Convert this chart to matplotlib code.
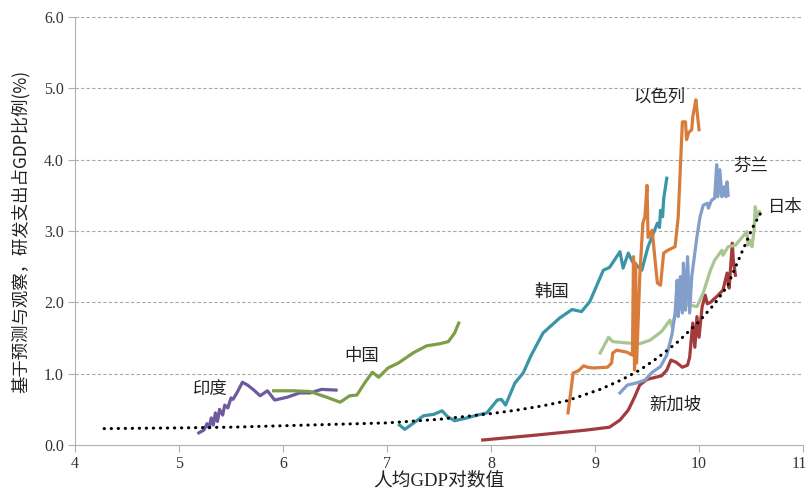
import matplotlib
matplotlib.use("Agg")
import matplotlib.pyplot as plt
import matplotlib.transforms as mtransforms
from matplotlib.ticker import FormatStrFormatter

plt.rcParams['font.family'] = ['Noto Sans CJK SC', 'DejaVu Sans']

# log GDP per capita (x) vs R&D share of GDP (y)
india_x = [5.19, 5.24, 5.27, 5.29, 5.31, 5.33, 5.35, 5.37, 5.39, 5.42, 5.44, 5.47, 5.50, 5.52,
           5.56, 5.61, 5.66, 5.72, 5.78, 5.85, 5.92, 6.04, 6.16, 6.26, 6.37, 6.51]
india_y = [0.17, 0.21, 0.30, 0.24, 0.38, 0.28, 0.45, 0.33, 0.50, 0.42, 0.56, 0.52, 0.66, 0.64,
           0.74, 0.88, 0.84, 0.77, 0.69, 0.76, 0.63, 0.67, 0.73, 0.73, 0.78, 0.77]

china_x = [5.91, 6.10, 6.26, 6.42, 6.55, 6.64, 6.71, 6.79, 6.86, 6.92, 7.01, 7.11, 7.25, 7.38,
           7.51, 7.59, 7.65, 7.69]
china_y = [0.76, 0.76, 0.75, 0.67, 0.60, 0.69, 0.70, 0.88, 1.02, 0.95, 1.08, 1.15, 1.29, 1.39,
           1.42, 1.45, 1.57, 1.71]

korea_x = [7.12, 7.17, 7.22, 7.35, 7.45, 7.53, 7.58, 7.65, 7.77, 7.87, 7.96, 8.06, 8.10, 8.14,
           8.23, 8.31, 8.38, 8.50, 8.66, 8.78, 8.87, 8.95, 9.08, 9.14, 9.24, 9.27, 9.32, 9.36,
           9.40, 9.45, 9.51, 9.60, 9.62, 9.63, 9.65, 9.66, 9.69]
korea_y = [0.28, 0.22, 0.27, 0.41, 0.43, 0.48, 0.40, 0.34, 0.38, 0.42, 0.45, 0.63, 0.64, 0.56,
           0.87, 1.01, 1.24, 1.57, 1.78, 1.90, 1.87, 2.01, 2.45, 2.49, 2.71, 2.48, 2.69, 2.57,
           2.52, 2.45, 2.78, 3.11, 3.05, 3.29, 3.20, 3.45, 3.74]

israel_x = [8.74, 8.76, 8.79, 8.84, 8.89, 8.93, 8.98, 9.12, 9.16, 9.17, 9.21, 9.31, 9.36, 9.37,
            9.38, 9.39, 9.40, 9.43, 9.46, 9.48, 9.50, 9.51, 9.55, 9.58, 9.60, 9.63, 9.66, 9.70,
            9.77, 9.80, 9.84, 9.87, 9.88, 9.90, 9.93, 9.94, 9.97, 9.98, 10.00]
israel_y = [0.45, 0.67, 1.01, 1.04, 1.11, 1.09, 1.08, 1.09, 1.15, 1.29, 1.33, 1.30, 1.26, 2.64,
            1.05, 2.55, 1.15, 2.35, 3.11, 3.20, 3.64, 2.91, 3.01, 2.55, 2.27, 2.24, 2.69, 2.73,
            2.78, 3.20, 4.53, 4.53, 4.28, 4.38, 4.42, 4.60, 4.84, 4.70, 4.42]

finland_x = [9.24, 9.31, 9.40, 9.48, 9.55, 9.63, 9.69, 9.74, 9.77, 9.79, 9.80, 9.82, 9.84, 9.85,
             9.87, 9.89, 9.91, 9.93, 9.98, 10.01, 10.04, 10.08, 10.09, 10.12, 10.15, 10.17,
             10.18, 10.20, 10.22, 10.24, 10.26, 10.27, 10.28]
finland_y = [0.73, 0.84, 0.87, 0.91, 1.02, 1.10, 1.26, 1.55, 1.85, 2.31, 1.80, 2.36, 1.85, 2.55,
             1.89, 2.64, 1.85, 2.36, 2.92, 3.20, 3.36, 3.39, 3.32, 3.43, 3.46, 3.93, 3.48,
             3.86, 3.48, 3.62, 3.48, 3.69, 3.50]

japan_x = [9.05, 9.13, 9.17, 9.31, 9.43, 9.53, 9.63, 9.65, 9.72, 9.74, 9.77, 9.85, 9.91, 9.98,
           10.04, 10.11, 10.15, 10.22, 10.23, 10.28, 10.35, 10.39, 10.46, 10.47, 10.49, 10.51,
           10.53, 10.54, 10.56, 10.58]
japan_y = [1.29, 1.51, 1.45, 1.43, 1.42, 1.47, 1.58, 1.61, 1.75, 1.66, 1.82, 1.99, 1.96, 1.94,
           2.13, 2.45, 2.59, 2.73, 2.66, 2.78, 2.80, 2.87, 2.99, 2.80, 2.87, 2.78, 3.02, 3.34,
           3.20, 3.27]

singapore_x = [7.92, 8.44, 8.92, 9.14, 9.24, 9.32, 9.38, 9.43, 9.50, 9.64, 9.69, 9.73, 9.78,
               9.84, 9.89, 9.91, 9.94, 9.96, 9.98, 10.00, 10.03, 10.06, 10.08, 10.11, 10.17,
               10.23, 10.27, 10.29, 10.32, 10.33, 10.35]
singapore_y = [0.07, 0.14, 0.21, 0.25, 0.35, 0.49, 0.67, 0.84, 0.92, 0.97, 1.05, 1.19, 1.16,
               1.09, 1.12, 1.23, 1.71, 1.37, 1.80, 1.51, 1.94, 2.10, 1.98, 2.00, 2.08,
               2.17, 2.41, 2.20, 2.83, 2.59, 2.38]

trend_x = [4.28, 5.0, 5.5, 6.0, 6.5, 7.0, 7.5, 8.0, 8.25, 8.5, 8.73, 9.05, 9.25, 9.43, 9.6,
           9.8, 10.0, 10.15, 10.27, 10.42, 10.52, 10.6]
trend_y = [0.23, 0.24, 0.25, 0.27, 0.29, 0.31, 0.36, 0.44, 0.49, 0.55, 0.62, 0.78, 0.91, 1.05,
           1.22, 1.45, 1.73, 1.98, 2.22, 2.73, 3.06, 3.27]

series = [
    (india_x, india_y, "#6e5a9e"),
    (china_x, china_y, "#7d9d48"),
    (korea_x, korea_y, "#3a95a6"),
    (singapore_x, singapore_y, "#a33b3d"),
    (japan_x, japan_y, "#a8c692"),
    (finland_x, finland_y, "#829fcb"),
    (israel_x, israel_y, "#d97b3b"),
]

labels = [("印度", 5.30, 0.78), ("中国", 6.76, 1.25), ("韩国", 8.58, 2.15),
          ("以色列", 9.62, 4.89), ("芬兰", 10.50, 3.92), ("日本", 10.83, 3.34),
          ("新加坡", 9.77, 0.56)]

fig = plt.figure(figsize=(8.09, 4.96), dpi=100)
ax = fig.add_axes([0.0927, 0.1028, 0.8999, 0.8629])

for y in range(1, 7):
    ax.axhline(y, color="#a8a8a8", linestyle=(0, (3, 2)), linewidth=0.8, zorder=1)

ax.plot(trend_x, trend_y, color="black", linewidth=2.2,
        linestyle=(0, (0.1, 2.2)), dash_capstyle="round", zorder=5)

for xs, ys, c in series:
    ax.plot(xs, ys, color=c, linewidth=2.3, solid_joinstyle="round", zorder=3)

for txt, lx, ly in labels:
    ax.text(lx, ly, txt, fontsize=12.5, ha="center", va="center", color="#222222")

ax.set_xlim(4, 11)
ax.set_ylim(0, 6)
ax.set_xticks(range(4, 12))
ax.set_yticks(range(0, 7))
ax.yaxis.set_major_formatter(FormatStrFormatter("%.1f"))
for s in ["top", "right"]:
    ax.spines[s].set_visible(False)
for s in ["left", "bottom"]:
    ax.spines[s].set_color("#b0b0b0")
ax.tick_params(direction="out", length=5, color="#b0b0b0", labelsize=11.5, pad=3)
for lab in ax.get_xticklabels() + ax.get_yticklabels():
    lab.set_family(["Liberation Serif"])
    lab.set_color("#333333")

# keep the last x tick label ("11") inside the figure edge
last = ax.get_xticklabels()[-1]
last.set_transform(last.get_transform() +
                   mtransforms.ScaledTranslation(-3 / 72, 0, fig.dpi_scale_trans))

ax.set_xlabel("人均GDP对数值", fontsize=13.5, family=["Liberation Serif", "Noto Sans CJK SC"],
              labelpad=0, color="#222222")
ax.set_ylabel("基于预测与观察，研发支出占GDP比例(%)", fontsize=12.5, labelpad=10,
              color="#222222")

fig.savefig("out.png", dpi=100)
